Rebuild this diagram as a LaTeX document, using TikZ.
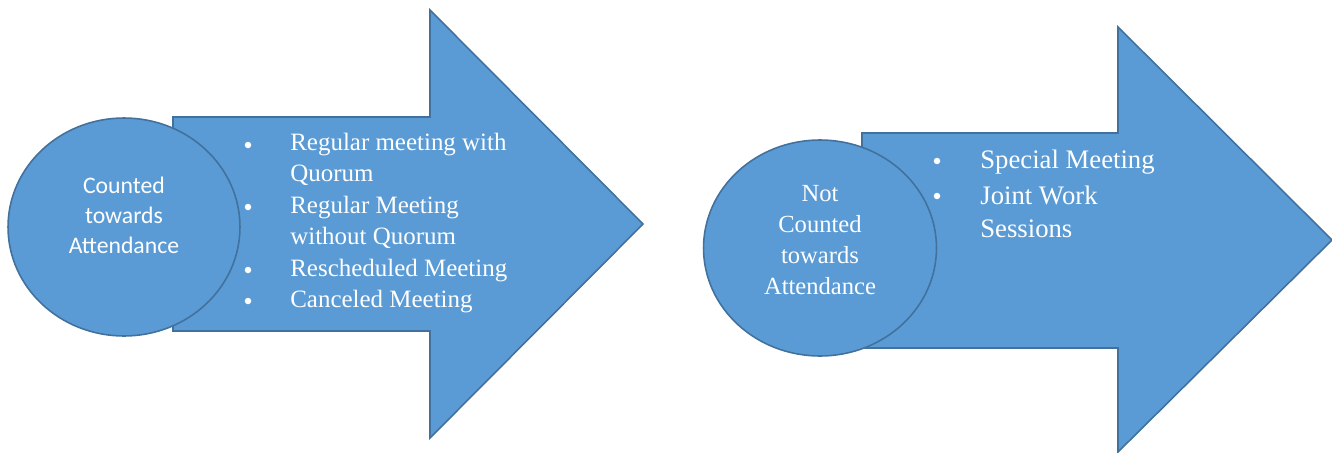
\documentclass[tikz,border=0pt]{standalone}
\usepackage{fontspec}
\setmainfont{Liberation Serif}
\newfontfamily\calfont{Carlito}
\usetikzlibrary{shapes.geometric}

\definecolor{boxfill}{HTML}{5B9BD5}
\definecolor{boxline}{HTML}{41719C}

\tikzset{
	bigarrow/.style={fill=boxfill, draw=boxline, line width=0.9pt, line join=miter},
	blob/.style={ellipse, fill=boxfill, draw=boxline, line width=0.9pt, inner sep=0pt},
	blobtext/.style={text=white, align=center, inner sep=0pt},
	item/.style={text=white, align=left, inner sep=0pt, anchor=west},
	dot/.style={circle, fill=white, inner sep=0pt, minimum size=0.13cm}
}

\begin{document}
\begin{tikzpicture}[x=0.02cm, y=-0.02cm]
		\useasboundingbox (0, 0) rectangle (1332, 453);
		% left arrow
		\filldraw[bigarrow] (173, 117) -- (430, 117) -- (430, 10) -- (643, 224) -- (430, 438) -- (430, 331) -- (173, 331) -- cycle;
		\node[blob, minimum width=4.64cm, minimum height=4.36cm] (counted) at (124, 227) {};
		\node[blobtext, font=\calfont\fontsize{13.5}{17}\selectfont] (countedtxt) at (124, 215) {Counted\\towards\\Attendance};
		\node[dot] (d1) at (248, 145) {};
		\node[dot] (d2) at (248, 207) {};
		\node[dot] (d3) at (248, 270) {};
		\node[dot] (d4) at (248, 301) {};
		\node[item, font=\fontsize{14.2}{17.6}\selectfont] (i1) at (290, 159) {Regular meeting with\\Quorum};
		\node[item, font=\fontsize{14.2}{17.6}\selectfont] (i2) at (290, 222) {Regular Meeting\\without Quorum};
		\node[item, font=\fontsize{14.2}{17.6}\selectfont] (i3) at (290, 271) {Rescheduled Meeting};
		\node[item, font=\fontsize{14.2}{17.6}\selectfont] (i4) at (290, 302) {Canceled Meeting};
		% right arrow
		\filldraw[bigarrow] (862, 133) -- (1118, 133) -- (1118, 27) -- (1332, 240) -- (1118, 452) -- (1118, 348) -- (862, 348) -- cycle;
		\node[blob, minimum width=4.66cm, minimum height=4.32cm] (notcounted) at (820, 248) {};
		\node[blobtext, font=\fontsize{14}{17.6}\selectfont] (notcountedtxt) at (820, 240) {Not\\Counted\\towards\\Attendance};
		\node[dot] (d5) at (937, 161) {};
		\node[dot] (d6) at (937, 196) {};
		\node[item, font=\fontsize{15.2}{19}\selectfont] (i5) at (980, 162) {Special Meeting};
		\node[item, font=\fontsize{15.2}{19}\selectfont] (i6) at (980, 212) {Joint Work\\Sessions};
		\end{tikzpicture}
\end{document}
